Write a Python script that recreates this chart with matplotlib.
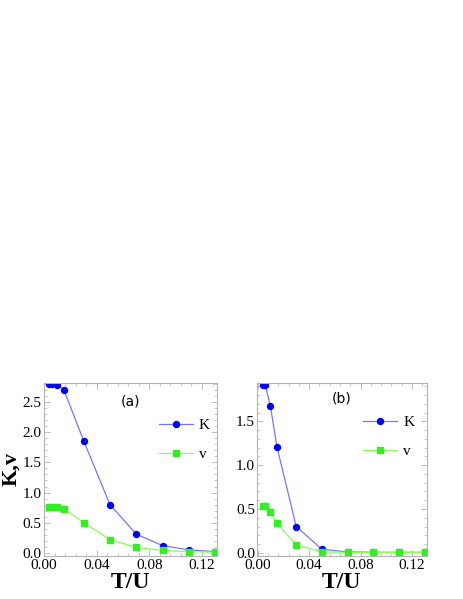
import matplotlib.pyplot as plt
from matplotlib.ticker import MultipleLocator

T = [0.004, 0.006, 0.01, 0.015, 0.03, 0.05, 0.07, 0.09, 0.11, 0.13]

K_a = [2.80, 2.80, 2.79, 2.70, 1.86, 0.80, 0.31, 0.12, 0.05, 0.02]
v_a = [0.76, 0.76, 0.76, 0.73, 0.50, 0.22, 0.09, 0.04, 0.02, 0.01]

K_b = [1.92, 1.91, 1.67, 1.21, 0.30, 0.04, 0.01, 0.005, 0.005, 0.005]
v_b = [0.53, 0.53, 0.46, 0.34, 0.09, 0.01, 0.005, 0.005, 0.005, 0.005]

panels = [("(a)", K_a, v_a, (-0.05, 2.82), [0.0, 0.5, 1.0, 1.5, 2.0, 2.5]),
          ("(b)", K_b, v_b, (-0.035, 1.94), [0.0, 0.5, 1.0, 1.5])]

plt.rcParams["font.family"] = ["Liberation Serif", "DejaVu Serif"]

fig = plt.figure(figsize=(4.63, 5.99), dpi=100)
boxes = [[0.094, 0.072, 0.375, 0.289], [0.555, 0.072, 0.367, 0.289]]
leg_pos = [(0.63, 0.83), (0.59, 0.845)]
frame = "#b4b4b4"

for i, (tag, K, v, ylim, yt) in enumerate(panels):
    ax = fig.add_axes(boxes[i])
    ax.plot(T, K, "-o", color="#7777ff", lw=0.9, ms=4.3,
            mfc="#0000ff", mec="#0000ff", label="K")
    ax.plot(T, v, "-s", color="#88ff55", lw=0.9, ms=3.8,
            mfc="#33ee22", mec="#33ee22", label="v")
    ax.set_xlim(-0.0005, 0.1315)
    ax.set_ylim(*ylim)
    ax.set_xticks([0.0, 0.04, 0.08, 0.12])
    ax.set_xticklabels(["0.00", "0.04", "0.08", "0.12"])
    ax.set_yticks(yt)
    ax.set_yticklabels([f"{t:.1f}" for t in yt])
    ax.xaxis.set_minor_locator(MultipleLocator(0.008))
    ax.yaxis.set_minor_locator(MultipleLocator(0.1))
    ax.tick_params(which="both", direction="in", top=True, right=True,
                   color=frame, labelsize=11)
    ax.tick_params(axis="x", pad=2.5)
    ax.tick_params(axis="y", pad=1.5)
    ax.tick_params(which="major", length=4, width=0.6)
    ax.tick_params(which="minor", length=2, width=0.5)
    for s in ax.spines.values():
        s.set_color(frame)
        s.set_linewidth(0.8)
    ax.set_xlabel("T/U", fontsize=17, fontweight="bold", labelpad=0)
    if i == 0:
        ax.set_ylabel("K,v", fontsize=16, fontweight="bold", labelpad=1)
    ax.text(0.5, 0.89 if i == 0 else 0.91, tag, transform=ax.transAxes,
            ha="center", va="center", fontsize=10, family="DejaVu Sans")
    ax.legend(loc="upper left", bbox_to_anchor=leg_pos[i], frameon=False,
              fontsize=11, handlelength=2.2, handletextpad=0.4,
              labelspacing=1.0, borderaxespad=0, markerscale=1)

fig.savefig("out.png", dpi=100)
